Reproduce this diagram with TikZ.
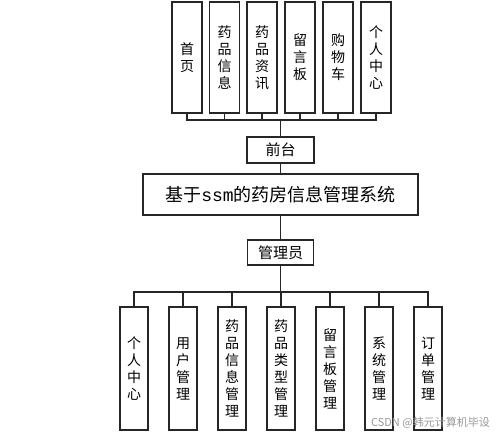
\documentclass[tikz,border=0pt]{standalone}
\usepackage{fontspec}
\setmainfont{Noto Sans CJK SC}
\newfontfamily\monof{Liberation Mono}
\begin{document}
\begin{tikzpicture}[x=1pt,y=-1pt,
  box/.style={draw=black!85,line width=1.3pt,inner sep=0pt,fill=white},
  vbox/.style={box,align=center,font=\fontsize{14}{17}\selectfont},
  tbox/.style={vbox,minimum width=30pt,minimum height=111pt},
  bbox/.style={vbox,minimum width=28pt,minimum height=123pt},
  link/.style={draw=black!85,line width=1.3pt}]
\useasboundingbox[fill=white] (0,0) rectangle (499,435);
% top boxes
\node[tbox] (t1) at (187,57.5) {首\\页};
\node[tbox] (t2) at (224.5,57.5) {药\\品\\信\\息};
\node[tbox] (t3) at (262,57.5) {药\\品\\资\\讯};
\node[tbox] (t4) at (300,57.5) {留\\言\\板};
\node[tbox] (t5) at (338,57.5) {购\\物\\车};
\node[tbox] (t6) at (376,57.5) {个\\人\\中\\心};
\coordinate (busT) at (280.5,120);
\node[box,minimum width=67pt,minimum height=26pt,font=\fontsize{15}{18}\selectfont] (qt) at (280.5,150) {前台};
\node[box,minimum width=275pt,minimum height=41pt,font=\fontsize{18}{22}\selectfont] (sys) at (280.5,194.5) {基于{\monof ssm}的药房信息管理系统};
\node[box,minimum width=66pt,minimum height=25pt,font=\fontsize{15}{18}\selectfont] (adm) at (280.5,252.5) {管理员};
\coordinate (busB) at (280.5,292);
% bottom boxes
\node[bbox] (b1) at (134,368.5) {个\\人\\中\\心};
\node[bbox] (b2) at (183,368.5) {用\\户\\管\\理};
\node[bbox] (b3) at (232,368.5) {药\\品\\信\\息\\管\\理};
\node[bbox] (b4) at (281,368.5) {药\\品\\类\\型\\管\\理};
\node[bbox] (b5) at (330,368.5) {留\\言\\板\\管\\理};
\node[bbox] (b6) at (379,368.5) {系\\统\\管\\理};
\node[bbox] (b7) at (428,368.5) {订\\单\\管\\理};
% connectors top
\draw[link] (t1.south) |- (busT) -| (t6.south);
\foreach \n in {t2,t3,t4,t5} \draw[link] (\n.south) -- (\n.south |- busT);
\draw[link] (busT) -- (qt.north);
\draw[link] (qt.south) -- (sys.north);
\draw[link] (sys.south) -- (adm.north);
\draw[link] (adm.south) -- (busB);
\draw[link] (b1.north) |- (busB) -| (b7.north);
\foreach \n in {b2,b3,b4,b5,b6} \draw[link] (\n.north) -- (\n.north |- busB);
% watermark
\node[anchor=east,text=black!40,font=\fontsize{11}{13}\selectfont,inner sep=0pt] (wm) at (490,423) {CSDN @韩元计算机毕设};
\end{tikzpicture}
\end{document}
